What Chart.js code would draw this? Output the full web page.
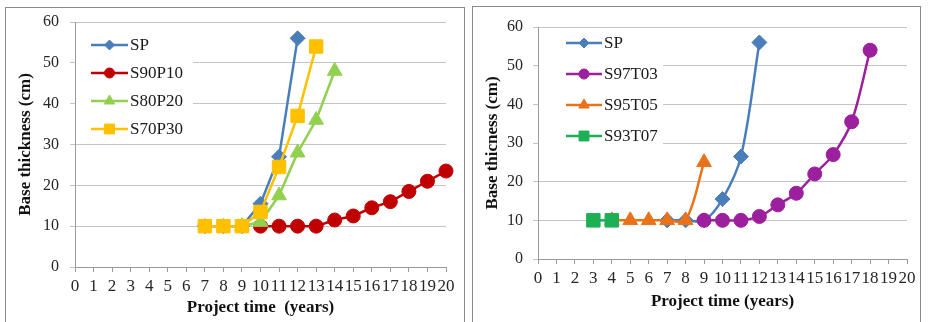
<!DOCTYPE html>
<html>
<head>
<meta charset="utf-8">
<script src="https://cdn.jsdelivr.net/npm/chart.js@4.4.1/dist/chart.umd.min.js"></script>
<style>
  html, body { margin: 0; padding: 0; background: #fff; }
  body { width: 928px; height: 322px; position: relative; overflow: hidden; }
  .panel { position: absolute; border: 1px solid #8a8a8a; background: #fff; }
  canvas { position: absolute; top: 0; }
</style>
</head>
<body>
<div class="panel" style="left:5px;top:7px;width:458px;height:330px"></div>
<div class="panel" style="left:472px;top:6px;width:447px;height:330px"></div>
<canvas id="leftChart" width="464" height="322" style="left:0"></canvas>
<canvas id="rightChart" width="464" height="322" style="left:464px"></canvas>
<script>
// left panel series (project time in years, base thickness in cm)
const leftSpYears = [7, 8, 9, 10, 11, 12];
const leftSpValues = [10, 10, 10, 15.5, 27, 56];
const s90p10Years = [10, 11, 12, 13, 14, 15, 16, 17, 18, 19, 20];
const s90p10Values = [10, 10, 10, 10, 11.5, 12.5, 14.5, 16, 18.5, 21, 23.5];
const s80p20Years = [9, 10, 11, 12, 13, 14];
const s80p20Values = [10, 11, 17.5, 28, 36, 48];
const s70p30Years = [7, 8, 9, 10, 11, 12, 13];
const s70p30Values = [10, 10, 10, 13.5, 24.5, 37, 54];

// right panel series
const rightSpYears = [7, 8, 9, 10, 11, 12];
const rightSpValues = [10, 10, 10, 15.5, 26.5, 56];
const s97t03Years = [9, 10, 11, 12, 13, 14, 15, 16, 17, 18];
const s97t03Values = [10, 10, 10, 11, 14, 17, 22, 27, 35.5, 54];
const s95t05Years = [4, 5, 6, 7, 8, 9];
const s95t05Values = [10, 10, 10, 10, 10, 25];
const s93t07Years = [3, 4];
const s93t07Values = [10, 10];

const xTicks = { min: 0, max: 20, step: 1 };
const yTicks = { min: 0, max: 60, step: 10 };

const serif = "'Liberation Serif', 'Times New Roman', serif";

function series(label, xs, ys, color, style, radius, order, tension) {
  return {
    label: label,
    data: xs.map((x, i) => ({ x: x, y: ys[i] })),
    borderColor: color,
    backgroundColor: color,
    pointBackgroundColor: color,
    pointBorderColor: color,
    borderWidth: 2.5,
    pointStyle: style,
    pointRadius: radius,
    pointBorderWidth: 1,
    tension: tension,
    order: order,
    clip: false
  };
}

// legend drawn inside the plot, on a white box over the grid
const insetLegend = {
  id: 'insetLegend',
  beforeDatasetsDraw(chart, args, opts) {
    const ctx = chart.ctx;
    ctx.save();
    ctx.fillStyle = '#fff';
    ctx.fillRect(opts.box[0], opts.box[1], opts.box[2], opts.box[3]);
    ctx.font = opts.font;
    ctx.textBaseline = 'middle';
    ctx.textAlign = 'left';
    chart.data.datasets.forEach((ds, i) => {
      const y = opts.y + i * opts.gap;
      ctx.strokeStyle = ds.borderColor;
      ctx.lineWidth = ds.borderWidth;
      ctx.beginPath();
      ctx.moveTo(opts.x, y);
      ctx.lineTo(opts.x + opts.len, y);
      ctx.stroke();
      ctx.fillStyle = ds.pointBackgroundColor;
      ctx.strokeStyle = ds.pointBorderColor;
      ctx.lineWidth = 1;
      Chart.helpers.drawPoint(ctx, {
        pointStyle: ds.pointStyle,
        radius: opts.markers[ds.pointStyle],
        rotation: 0,
        borderWidth: 1
      }, opts.x + opts.len / 2, y);
      ctx.fillStyle = '#1a1a1a';
      ctx.fillText(ds.label, opts.x + opts.len + 2, y + 1);
    });
    ctx.restore();
  }
};

function axes(xTitle, xHeight, xTitlePad, yWidth, yTitle, yTitlePad, yTickPad) {
  return {
    x: {
      type: 'linear',
      min: xTicks.min,
      max: xTicks.max,
      afterFit: (s) => { s.height = xHeight; },
      ticks: {
        stepSize: xTicks.step, autoSkip: false, maxRotation: 0, minRotation: 0,
        padding: 4, color: '#262626', font: { family: serif, size: 17 }
      },
      grid: { drawOnChartArea: false, drawTicks: true, tickLength: 5, color: '#9a9a9a' },
      border: { color: '#9a9a9a' },
      title: {
        display: true, text: xTitle, color: '#111',
        font: { family: serif, size: 17, weight: 'bold' },
        padding: { top: 0, bottom: xTitlePad }
      }
    },
    y: {
      min: yTicks.min,
      max: yTicks.max,
      afterFit: (s) => { s.width = yWidth; },
      ticks: {
        stepSize: yTicks.step, padding: yTickPad, color: '#262626',
        font: { family: serif, size: 16 }
      },
      grid: { color: '#c4c4c4', tickLength: 5 },
      border: { color: '#9a9a9a' },
      title: {
        display: true, text: yTitle, color: '#111',
        font: { family: serif, size: 17, weight: 'bold' },
        padding: { top: yTitlePad, bottom: 0 }
      }
    }
  };
}

new Chart('leftChart', {
  type: 'line',
  data: {
    datasets: [
      series('SP', leftSpYears, leftSpValues, '#4a7ebb', 'rectRot', 7.5, 3, 0),
      series('S90P10', s90p10Years, s90p10Values, '#c00000', 'circle', 7, 2, 0),
      series('S80P20', s80p20Years, s80p20Values, '#92d050', 'triangle', 8.5, 1, 0),
      series('S70P30', s70p30Years, s70p30Values, '#ffc000', 'rect', 9.5, 0, 0)
    ]
  },
  options: {
    responsive: false,
    animation: false,
    layout: { padding: { left: 0, top: 22, right: 18, bottom: 0 } },
    scales: axes('Project time  (years)', 55, 4, 75, 'Base thickness (cm)', 15, 11),
    plugins: {
      legend: { display: false },
      tooltip: { enabled: false },
      insetLegend: {
        box: [76, 28, 117, 114], x: 91, y: 45, gap: 28, len: 37,
        font: '17px ' + serif,
        markers: { rectRot: 5, circle: 5, triangle: 6, rect: 7 }
      }
    }
  },
  plugins: [insetLegend]
});

new Chart('rightChart', {
  type: 'line',
  data: {
    datasets: [
      series('SP', rightSpYears, rightSpValues, '#4a7ebb', 'rectRot', 7.5, 3, 0.33),
      series('S97T03', s97t03Years, s97t03Values, '#9c1f9e', 'circle', 7, 2, 0.33),
      series('S95T05', s95t05Years, s95t05Values, '#e8731b', 'triangle', 8.5, 1, 0.33),
      series('S93T07', s93t07Years, s93t07Values, '#1daf54', 'rect', 9.5, 0, 0.33)
    ]
  },
  options: {
    responsive: false,
    animation: false,
    layout: { padding: { left: 0, top: 27, right: 21, bottom: 0 } },
    scales: axes('Project time (years)', 63, 10, 74, 'Base thicness (cm)', 18, 10),
    plugins: {
      legend: { display: false },
      tooltip: { enabled: false },
      insetLegend: {
        box: [75, 28, 124, 127], x: 102, y: 43, gap: 31, len: 36,
        font: '17px ' + serif,
        markers: { rectRot: 5, circle: 5, triangle: 6, rect: 7 }
      }
    }
  },
  plugins: [insetLegend]
});
</script>
</body>
</html>
